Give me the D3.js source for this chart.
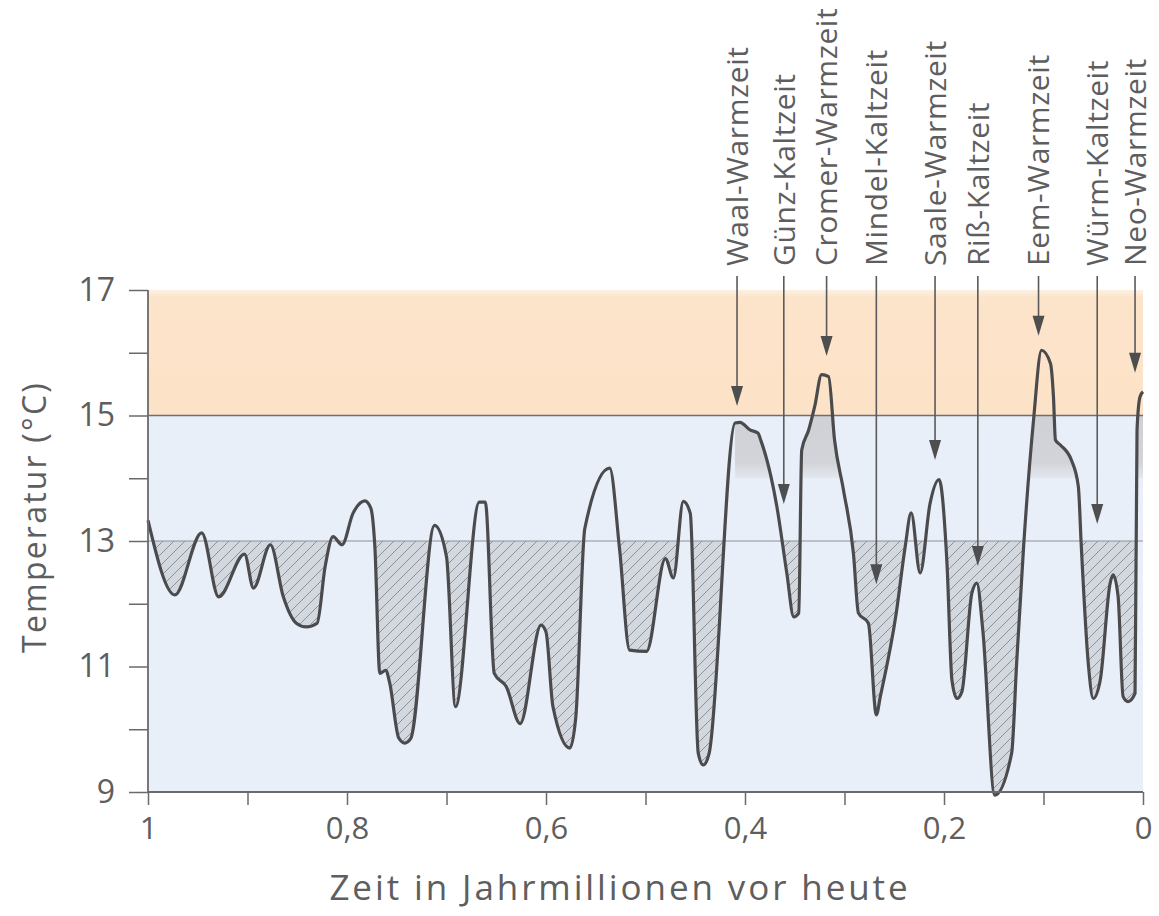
<!DOCTYPE html>
<html>
<head>
<meta charset="utf-8">
<script src="https://cdn.jsdelivr.net/npm/d3@7"></script>
<style>
  html, body { margin: 0; padding: 0; background: #ffffff; }
  svg { display: block; }
  text { font-family: "Open Sans", "Noto Sans", sans-serif; fill: #5e5e5e; }
</style>
</head>
<body>
<svg id="chart" width="1159" height="916"></svg>
<script>
// ---- Data ----
const times = [1.000, 0.973, 0.946, 0.929, 0.903, 0.894, 0.877, 0.864, 0.851, 0.841, 0.830, 0.822, 0.814, 0.805, 0.794, 0.782, 0.776, 0.772, 0.767, 0.761, 0.757, 0.748, 0.742, 0.736, 0.712, 0.700, 0.691, 0.667, 0.661, 0.652, 0.640, 0.626, 0.605, 0.600, 0.593, 0.576, 0.570, 0.561, 0.536, 0.526, 0.516, 0.499, 0.480, 0.472, 0.462, 0.455, 0.447, 0.442, 0.436, 0.410, 0.405, 0.395, 0.387, 0.384, 0.368, 0.358, 0.351, 0.346, 0.343, 0.336, 0.330, 0.323, 0.316, 0.310, 0.301, 0.291, 0.286, 0.276, 0.268, 0.264, 0.248, 0.239, 0.233, 0.224, 0.214, 0.205, 0.197, 0.192, 0.187, 0.182, 0.172, 0.167, 0.161, 0.149, 0.132, 0.127, 0.120, 0.110, 0.102, 0.093, 0.090, 0.088, 0.083, 0.072, 0.065, 0.062, 0.055, 0.050, 0.043, 0.033, 0.030, 0.025, 0.020, 0.015, 0.008, 0.006, 0.003, 0.000];
const temps = [13.33, 12.14, 13.13, 12.11, 12.79, 12.25, 12.94, 12.11, 11.69, 11.63, 11.69, 12.59, 13.07, 12.94, 13.44, 13.64, 13.52, 12.91, 10.89, 10.94, 10.73, 9.86, 9.78, 9.85, 13.25, 12.75, 10.36, 13.62, 13.62, 10.89, 10.68, 10.09, 11.66, 11.55, 10.36, 9.70, 10.20, 13.20, 14.16, 12.86, 11.26, 11.24, 12.72, 12.41, 13.63, 13.44, 9.62, 9.43, 9.62, 14.88, 14.89, 14.77, 14.72, 14.60, 13.55, 12.49, 11.79, 11.85, 14.45, 14.77, 15.14, 15.65, 15.62, 14.61, 13.81, 12.80, 11.85, 11.69, 10.23, 10.52, 11.85, 12.91, 13.45, 12.49, 13.60, 13.98, 12.64, 10.78, 10.49, 10.60, 12.17, 12.33, 11.58, 8.95, 9.62, 11.05, 12.91, 14.93, 16.04, 15.83, 15.30, 14.61, 14.53, 14.29, 13.87, 12.91, 11.05, 10.49, 10.78, 12.33, 12.46, 12.11, 10.52, 10.44, 10.57, 14.77, 15.30, 15.38];

const periodNames = ["Waal-Warmzeit", "Günz-Kaltzeit", "Cromer-Warmzeit", "Mindel-Kaltzeit", "Saale-Warmzeit", "Riß-Kaltzeit", "Eem-Warmzeit", "Würm-Kaltzeit", "Neo-Warmzeit"];
const periodTimes = [0.408, 0.361, 0.318, 0.268, 0.209, 0.166, 0.105, 0.046, 0.008];
const periodArrowTemps = [15.15, 13.59, 15.95, 12.31, 14.29, 12.60, 16.27, 13.27, 15.68];

const xTickValues = [1, 0.9, 0.8, 0.7, 0.6, 0.5, 0.4, 0.3, 0.2, 0.1, 0];
const xTickLabels = ["1", "", "0,8", "", "0,6", "", "0,4", "", "0,2", "", "0"];
const yTickValues = [9, 10, 11, 12, 13, 14, 15, 16, 17];
const yTickLabels = ["9", "", "11", "", "13", "", "15", "", "17"];

const warmBand = [15, 17];
const normalBand = [9, 15];
const normalLine = 13;
const warmLine = 15;
const shadeLow = 14;

const xTitle = "Zeit in Jahrmillionen vor heute";
const yTitle = "Temperatur (°C)";

// ---- Chart ----
const data = times.map((t, i) => ({ t, v: temps[i] }));
const svg = d3.select("#chart");

const x = d3.scaleLinear().domain([1, 0]).range([148, 1143]);
const y = d3.scaleLinear().domain([9, 17]).range([792, 290]);

const defs = svg.append("defs");
const pat = defs.append("pattern").attr("id", "hatch")
  .attr("patternUnits", "userSpaceOnUse").attr("width", 11).attr("height", 11);
pat.append("rect").attr("width", 11).attr("height", 11).attr("fill", "#d3d7de");
pat.append("path").attr("d", "M-1,1 l2,-2 M0,11 l11,-11 M10,12 l2,-2")
  .attr("stroke", "#858a92").attr("stroke-width", 0.9);

const grad = defs.append("linearGradient").attr("id", "peakShade")
  .attr("gradientUnits", "userSpaceOnUse")
  .attr("x1", 0).attr("x2", 0).attr("y1", y(warmLine)).attr("y2", y(shadeLow));
grad.append("stop").attr("offset", "0").attr("stop-color", "#cfd1d6");
grad.append("stop").attr("offset", "0.75").attr("stop-color", "#d2d4d9");
grad.append("stop").attr("offset", "1").attr("stop-color", "#e3e8ef");

defs.append("clipPath").attr("id", "belowNormal").append("rect")
  .attr("x", x(1)).attr("y", y(normalLine)).attr("width", x(0) - x(1)).attr("height", y(8) - y(normalLine));
defs.append("clipPath").attr("id", "shadeBand").append("rect")
  .attr("x", x(1)).attr("y", y(warmLine)).attr("width", x(0) - x(1)).attr("height", y(shadeLow) - y(warmLine));

const warmGrad = defs.append("linearGradient").attr("id", "warmGrad")
  .attr("x1", 0).attr("x2", 0).attr("y1", 0).attr("y2", 1);
warmGrad.append("stop").attr("offset", "0").attr("stop-color", "#fdf0e2");
warmGrad.append("stop").attr("offset", "0.06").attr("stop-color", "#fce4ca");
warmGrad.append("stop").attr("offset", "1").attr("stop-color", "#fce3c8");

// bands
svg.append("rect").attr("x", x(1)).attr("y", y(warmBand[1]))
  .attr("width", x(0) - x(1)).attr("height", y(warmBand[0]) - y(warmBand[1]))
  .attr("fill", "url(#warmGrad)");
svg.append("rect").attr("x", x(1)).attr("y", y(normalBand[1]))
  .attr("width", x(0) - x(1)).attr("height", y(normalBand[0]) - y(normalBand[1]))
  .attr("fill", "#e8eff9");

const curve = d3.curveMonotoneX;

// hatched area below 13
svg.append("path").datum(data)
  .attr("clip-path", "url(#belowNormal)")
  .attr("fill", "url(#hatch)")
  .attr("d", d3.area().curve(curve).x(d => x(d.t)).y0(y(normalLine)).y1(d => y(d.v)));

// grey shading under the warm peaks
svg.append("path").datum(data)
  .attr("clip-path", "url(#shadeBand)")
  .attr("fill", "url(#peakShade)")
  .attr("d", d3.area().curve(curve).defined(d => d.t <= 0.42)
    .x(d => x(d.t)).y0(y(shadeLow)).y1(d => y(d.v)));

// reference lines
svg.append("line").attr("x1", x(1)).attr("x2", x(0)).attr("y1", y(normalLine)).attr("y2", y(normalLine))
  .attr("stroke", "#8e9096").attr("stroke-width", 1.2);
svg.append("line").attr("x1", x(1)).attr("x2", x(0)).attr("y1", y(warmLine)).attr("y2", y(warmLine))
  .attr("stroke", "#6e6e70").attr("stroke-width", 1.6);

// arrows
const arrowG = svg.append("g");
periodNames.forEach((name, i) => {
  const px = x(periodTimes[i]);
  const tip = y(periodArrowTemps[i]);
  arrowG.append("line").attr("x1", px).attr("x2", px).attr("y1", 276).attr("y2", tip - 10)
    .attr("stroke", "#5a5a5a").attr("stroke-width", 1.6);
  arrowG.append("path")
    .attr("d", `M${px - 6},${tip - 20} L${px + 6},${tip - 20} L${px},${tip} Z`)
    .attr("fill", "#4e4e4e");
  arrowG.append("text")
    .attr("transform", `translate(${px},266) rotate(-90)`)
    .attr("dy", "0.36em")
    .attr("font-size", 30)
    .attr("letter-spacing", 0.6)
    .text(name);
});

// temperature line
svg.append("path").datum(data)
  .attr("fill", "none").attr("stroke", "#4b4b4d").attr("stroke-width", 3.2)
  .attr("stroke-linejoin", "round")
  .attr("d", d3.line().curve(curve).x(d => x(d.t)).y(d => y(d.v)));

// axes
const xAxis = d3.axisBottom(x).tickValues(xTickValues).tickSize(13).tickPadding(12)
  .tickFormat((d, i) => xTickLabels[i]);
const gx = svg.append("g").attr("transform", `translate(0,${y(9)})`).call(xAxis);
gx.select(".domain").attr("stroke", "#6a6a6a").attr("stroke-width", 1.8).attr("d", `M${x(1)},0H${x(0)}`);
gx.selectAll(".tick line").attr("stroke", "#6a6a6a").attr("stroke-width", 1.5);
gx.selectAll(".tick text").attr("font-size", 31).attr("fill", "#5e5e5e")
  .attr("font-family", "'Open Sans', sans-serif");

const yAxis = d3.axisLeft(y).tickValues(yTickValues).tickSize(19).tickPadding(14)
  .tickFormat((d, i) => yTickLabels[i]);
const gy = svg.append("g").attr("transform", `translate(${x(1)},0)`).call(yAxis);
gy.select(".domain").attr("stroke", "#6a6a6a").attr("stroke-width", 1.8).attr("d", `M0,${y(17)}V${y(9)}`);
gy.selectAll(".tick line").attr("stroke", "#6a6a6a").attr("stroke-width", 1.5);
gy.selectAll(".tick text").attr("font-size", 32).attr("fill", "#5e5e5e")
  .attr("font-family", "'Open Sans', sans-serif");

// titles
svg.append("text").attr("x", 620).attr("y", 900).attr("text-anchor", "middle")
  .attr("font-size", 35).attr("letter-spacing", 2.9).text(xTitle);
svg.append("text").attr("transform", `translate(46,517) rotate(-90)`)
  .attr("text-anchor", "middle").attr("font-size", 32).attr("letter-spacing", 2.2).text(yTitle);
</script>
</body>
</html>
